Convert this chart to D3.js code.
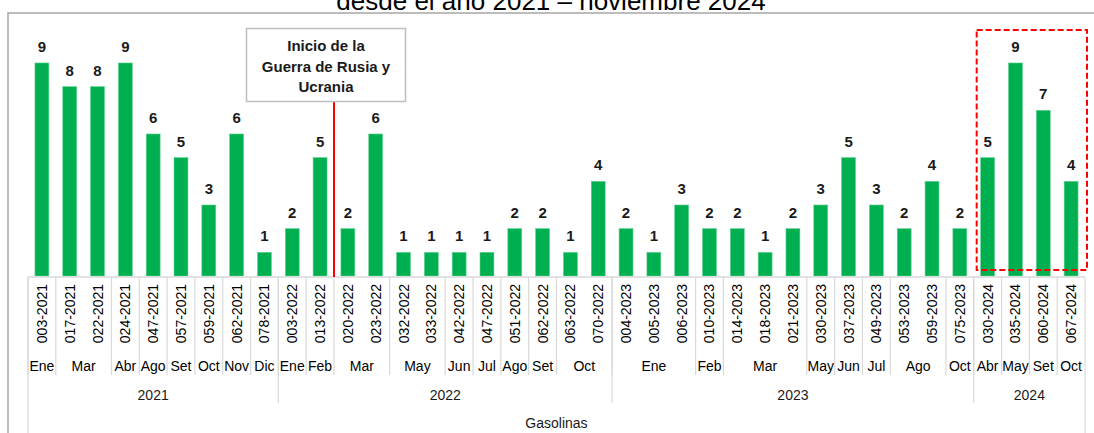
<!DOCTYPE html>
<html>
<head>
<meta charset="utf-8">
<script src="https://cdn.jsdelivr.net/npm/d3@7"></script>
<style>
  body { margin: 0; background: #fff; }
  svg { display: block; }
</style>
</head>
<body>
<svg id="chart" width="1094" height="433"></svg>
<script>
var codes = ['003-2021','017-2021','022-2021','024-2021','047-2021','057-2021','059-2021','062-2021','078-2021',
  '003-2022','013-2022','020-2022','023-2022','032-2022','033-2022','042-2022','047-2022','051-2022','062-2022','063-2022','070-2022',
  '004-2023','005-2023','006-2023','010-2023','014-2023','018-2023','021-2023','030-2023','037-2023','049-2023','053-2023','059-2023','075-2023',
  '030-2024','035-2024','060-2024','067-2024'];
var months = ['Ene','Mar','Mar','Abr','Ago','Set','Oct','Nov','Dic',
  'Ene','Feb','Mar','Mar','May','May','Jun','Jul','Ago','Set','Oct','Oct',
  'Ene','Ene','Ene','Feb','Mar','Mar','Mar','May','Jun','Jul','Ago','Ago','Oct',
  'Abr','May','Set','Oct'];
var years = ['2021','2021','2021','2021','2021','2021','2021','2021','2021',
  '2022','2022','2022','2022','2022','2022','2022','2022','2022','2022','2022','2022',
  '2023','2023','2023','2023','2023','2023','2023','2023','2023','2023','2023','2023','2023',
  '2024','2024','2024','2024'];
var values = [9,8,8,9,6,5,3,6,1, 2,5,2,6,1,1,1,1,2,2,1,4, 2,1,3,2,2,1,2,3,5,3,2,4,2, 5,9,7,4];
var topGroup = 'Gasolinas';
var warNote = ['Inicio de la', 'Guerra de Rusia y', 'Ucrania'];
var warIndex = 11;      // first bar after the start of the war
var highlightFrom = 34; // 2024 bars
var title = 'desde el año 2021 \u2013 noviembre 2024';

var svg = d3.select('#chart');
var font = "'Liberation Sans', Arial, sans-serif";
var gridColor = '#d9d9d9';
var n = values.length;

// title (clipped at top like the source)
svg.append('text').attr('x', 551).attr('y', 10)
  .attr('text-anchor', 'middle').attr('font-family', font).attr('font-size', 26)
  .attr('fill', '#000').text(title);

// chart area
svg.append('rect').attr('x', 8).attr('y', 13).attr('width', 1100).attr('height', 430)
  .attr('fill', '#fff').attr('stroke', '#a6a6a6').attr('stroke-width', 1.5);

var idx = d3.range(n);
var x = d3.scaleBand().domain(idx).range([28, 1085]).paddingInner(0.5).paddingOuter(0.25);
var y = d3.scaleLinear().domain([0, 10]).range([276, 39.3]);
var step = x.step();
var half = step * x.paddingInner() / 2;
var edge = function(i) { return i < n ? x(i) - half : x(n - 1) + x.bandwidth() + half; };
var base = y(0);

// bars
svg.append('g').selectAll('rect').data(idx).enter().append('rect')
  .attr('x', d => x(d)).attr('width', x.bandwidth())
  .attr('y', d => y(values[d])).attr('height', d => base - y(values[d]))
  .attr('fill', '#00B050').attr('stroke', '#5fd18f').attr('stroke-width', 0.6);

svg.append('g').selectAll('text').data(idx).enter().append('text')
  .attr('x', d => x(d) + x.bandwidth() / 2).attr('y', d => y(values[d]) - 11)
  .attr('text-anchor', 'middle').attr('font-family', font).attr('font-weight', 'bold')
  .attr('font-size', 15).attr('fill', '#1a1a1a').text(d => values[d]);

// category axis
var ax = svg.append('g');
ax.append('line').attr('x1', edge(0)).attr('x2', edge(n)).attr('y1', base + 1).attr('y2', base + 1)
  .attr('stroke', gridColor).attr('stroke-width', 1.5);

ax.selectAll('text.code').data(idx).enter().append('text')
  .attr('class', 'code')
  .attr('transform', d => 'translate(' + (x(d) + x.bandwidth() / 2 + 5) + ',' + (base + 8) + ') rotate(-90)')
  .attr('text-anchor', 'end').attr('font-family', font).attr('font-size', 14).attr('fill', '#000')
  .text(d => codes[d]);

// month and year groups
var monthGroups = [];
idx.forEach(function(i) {
  var last = monthGroups[monthGroups.length - 1];
  if (last && months[last.start] === months[i] && years[last.start] === years[i]) last.end = i;
  else monthGroups.push({start: i, end: i});
});
var yearGroups = [];
idx.forEach(function(i) {
  var last = yearGroups[yearGroups.length - 1];
  if (last && years[last.start] === years[i]) last.end = i;
  else yearGroups.push({start: i, end: i});
});

monthGroups.forEach(function(g) {
  ax.append('line').attr('x1', edge(g.start)).attr('x2', edge(g.start))
    .attr('y1', base + 1).attr('y2', 375).attr('stroke', gridColor).attr('stroke-width', 1.2);
  ax.append('text').attr('x', (edge(g.start) + edge(g.end + 1)) / 2).attr('y', 371)
    .attr('text-anchor', 'middle').attr('font-family', font).attr('font-size', 14).attr('fill', '#000')
    .text(months[g.start]);
});
yearGroups.forEach(function(g) {
  ax.append('line').attr('x1', edge(g.start)).attr('x2', edge(g.start))
    .attr('y1', base + 1).attr('y2', g.start === 0 ? 433 : 403).attr('stroke', gridColor).attr('stroke-width', 1.2);
  ax.append('text').attr('x', (edge(g.start) + edge(g.end + 1)) / 2).attr('y', 400)
    .attr('text-anchor', 'middle').attr('font-family', font).attr('font-size', 14).attr('fill', '#1a1a1a')
    .text(years[g.start]);
});
ax.append('line').attr('x1', edge(n)).attr('x2', edge(n))
  .attr('y1', base + 1).attr('y2', 433).attr('stroke', gridColor).attr('stroke-width', 1.2);
ax.append('text').attr('x', (edge(0) + edge(n)) / 2).attr('y', 428)
  .attr('text-anchor', 'middle').attr('font-family', font).attr('font-size', 14).attr('fill', '#1a1a1a')
  .text(topGroup);

// war marker
var warX = edge(warIndex);
svg.append('line').attr('x1', warX).attr('x2', warX).attr('y1', 101).attr('y2', base + 1)
  .attr('stroke', '#ff0000').attr('stroke-width', 2);
svg.append('rect').attr('x', 246.5).attr('y', 28.5).attr('width', 159).attr('height', 73)
  .attr('fill', '#fff').attr('stroke', '#bfbfbf').attr('stroke-width', 1.5);
svg.append('g').selectAll('text').data(warNote).enter().append('text')
  .attr('x', 326).attr('y', (d, i) => 51 + i * 20.5)
  .attr('text-anchor', 'middle').attr('font-family', font).attr('font-weight', 'bold')
  .attr('font-size', 15).attr('fill', '#1a1a1a').text(d => d);

// 2024 highlight
var hx = x(highlightFrom) - 4;
svg.append('rect').attr('x', hx).attr('y', 30)
  .attr('width', edge(n) + 2 - hx).attr('height', 240)
  .attr('fill', 'none').attr('stroke', '#ff0000').attr('stroke-width', 2).attr('stroke-dasharray', '6,3');
</script>
</body>
</html>
